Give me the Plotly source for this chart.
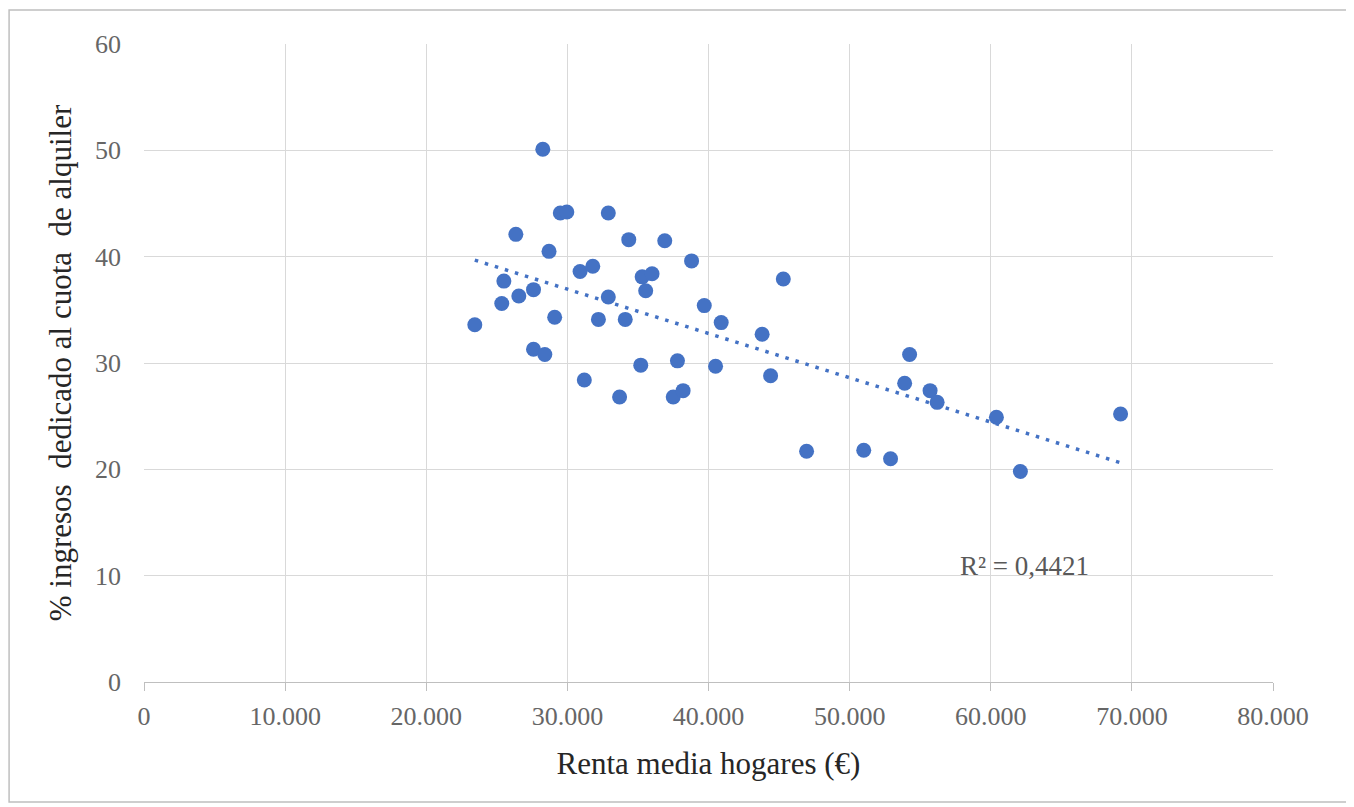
import numpy as np
import plotly.graph_objects as go

renta = [23440, 25350, 25500, 26350, 26560, 27600, 27600, 28400, 28260, 28700,
         29100, 29500, 29960, 30900, 31200, 31800, 32200, 32900, 32900, 33700,
         34100, 34350, 35200, 35300, 35550, 36000, 36900, 37500, 37800, 38200,
         38800, 39700, 40500, 40900, 43800, 44400, 45300, 46950, 51000, 52900,
         53900, 54250, 55700, 56200, 60400, 62100, 69200]
pct = [33.6, 35.6, 37.7, 42.1, 36.3, 36.9, 31.3, 30.8, 50.1, 40.5,
       34.3, 44.1, 44.2, 38.6, 28.4, 39.1, 34.1, 36.2, 44.1, 26.8,
       34.1, 41.6, 29.8, 38.1, 36.8, 38.4, 41.5, 26.8, 30.2, 27.4,
       39.6, 35.4, 29.7, 33.8, 32.7, 28.8, 37.9, 21.7, 21.8, 21.0,
       28.1, 30.8, 27.4, 26.3, 24.9, 19.8, 25.2]

x_tickvals = [0, 10000, 20000, 30000, 40000, 50000, 60000, 70000, 80000]
x_ticktext = ["0", "10.000", "20.000", "30.000", "40.000", "50.000", "60.000", "70.000", "80.000"]
y_tickvals = [0, 10, 20, 30, 40, 50, 60]
r2_label = "R² = 0,4421"

slope, intercept = np.polyfit(renta, pct, 1)
tx = [min(renta), max(renta)]
ty = [slope * v + intercept for v in tx]

fig = go.Figure()
fig.add_trace(go.Scatter(x=tx, y=ty, mode="lines",
                         line=dict(color="#4472C4", width=3.5, dash="3.5px,7px"),
                         hoverinfo="skip", showlegend=False))
fig.add_trace(go.Scatter(x=renta, y=pct, mode="markers",
                         marker=dict(color="#4472C4", size=15, line=dict(width=0)),
                         showlegend=False))

font_family = "Liberation Serif, Times New Roman, serif"
fig.update_layout(
    width=1346, height=799,
    margin=dict(l=136, r=81, t=36, b=125),
    paper_bgcolor="white", plot_bgcolor="white",
    font=dict(family=font_family, color="#595959", size=26),
    xaxis=dict(range=[0, 80000], tickvals=x_tickvals, ticktext=x_ticktext,
               showgrid=True, gridcolor="#d9d9d9", gridwidth=1,
               showline=True, linecolor="#bfbfbf", linewidth=1,
               ticks="outside", ticklen=8, tickcolor="#bfbfbf",
               ticklabelstandoff=3,
               zeroline=False, tickfont=dict(size=26, color="#666666"),
               title=dict(text="Renta media hogares (€)", standoff=22,
                          font=dict(size=31, color="#262626"))),
    yaxis=dict(range=[0, 60], tickvals=y_tickvals,
               showgrid=True, gridcolor="#d9d9d9", gridwidth=1,
               showline=False, zeroline=False, ticks="",
               ticklabelstandoff=22,
               tickfont=dict(size=26, color="#666666"),
               title=dict(text="% ingresos \u00a0dedicado al cuota \u00a0de alquiler", standoff=14,
                          font=dict(size=31, color="#262626"))),
    annotations=[dict(x=62400, y=10.9, xref="x", yref="y", text=r2_label,
                      showarrow=False, font=dict(size=27, color="#595959"))],
    shapes=[dict(type="rect", xref="paper", yref="paper",
                 x0=-0.1195, x1=1.068, y0=-0.188, y1=1.0533,
                 line=dict(color="#bfbfbf", width=1.5), fillcolor="rgba(0,0,0,0)", layer="below")],
)

fig.write_html("out.html")
